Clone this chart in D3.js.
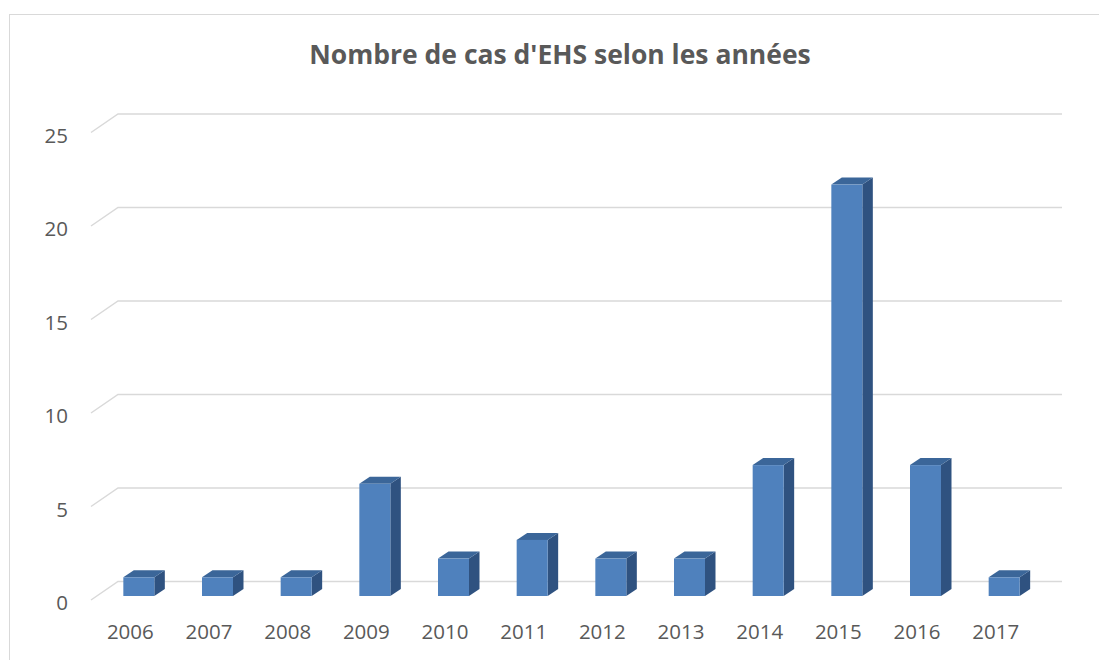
<!DOCTYPE html>
<meta charset="utf-8">
<script src="https://d3js.org/d3.v7.min.js"></script>
<style>
body { margin: 0; background: #fff; }
.axis .domain, .axis line { display: none; }
.axis text { font-family: "Open Sans", sans-serif; font-size: 20.5px; fill: #595959; }
</style>
<body>
<div id="canvas"></div>
<script>

var years = ["2006", "2007", "2008", "2009", "2010", "2011", "2012", "2013", "2014", "2015", "2016", "2017"];
var cases = [1, 1, 1, 6, 2, 3, 2, 2, 7, 22, 7, 1];
var yTicks = [0, 5, 10, 15, 20, 25];

var width = 1099, height = 660;

var svg = d3.select("#canvas").append("svg")
    .attr("width", width)
    .attr("height", height);

// cadre du graphique (sort de l'image à droite et en bas)
svg.append("rect")
    .attr("x", 9.5).attr("y", 14.5)
    .attr("width", 1200).attr("height", 800)
    .attr("fill", "none")
    .attr("stroke", "#d9d9d9");

svg.append("text")
    .attr("x", 560).attr("y", 64)
    .attr("text-anchor", "middle")
    .style("font-family", "Open Sans, sans-serif")
    .style("font-weight", "bold")
    .style("font-size", "26.5px")
    .style("fill", "#595959")
    .text("Nombre de cas d'EHS selon les années");

// profondeur de la 3D
var depth = {dx: 27, dy: -18.5};

// y = mur du fond
var y = d3.scaleLinear().domain([0, 25]).range([581.5, 114]);
// x = bande à l'avant
var x = d3.scaleBand().domain(years).range([91, 1035]);

// grille : petit trait en biais puis ligne sur le mur du fond
var grid = svg.append("g");
yTicks.forEach(function(t) {
    grid.append("path")
        .attr("d", "M" + x.range()[0] + "," + (y(t) - depth.dy) +
                   "L" + (x.range()[0] + depth.dx) + "," + y(t) +
                   "L" + (x.range()[1] + depth.dx) + "," + y(t))
        .attr("fill", "none")
        .attr("stroke", "#d9d9d9")
        .attr("stroke-width", 1.5);
});

// axe Y (valeurs sur le plan de devant)
svg.append("g")
    .attr("class", "axis")
    .attr("transform", "translate(68," + (-depth.dy + 3) + ")")
    .call(d3.axisLeft(y).tickValues(yTicks).tickSize(0).tickPadding(0));

// axe X
svg.append("g")
    .attr("class", "axis")
    .attr("transform", "translate(0," + (y(0) - depth.dy + 20) + ")")
    .call(d3.axisBottom(x).tickSize(0).tickPadding(4));

// barres 3D
var barW = x.bandwidth() * 0.394;
var off = {dx: 8.5, dy: -4};   // position de la face avant dans la profondeur
var side = {dx: 10.5, dy: -7}; // épaisseur de la barre

var bars = svg.selectAll(".bar")
    .data(years.map(function(yr, i) { return {year: yr, value: cases[i]}; }))
    .enter().append("g")
    .attr("class", "bar");

function fx(d) { return x(d.year) + x.bandwidth() / 2 - barW / 2 + off.dx; }
function fTop(d) { return y(d.value) - depth.dy + off.dy; }
function fBot() { return y(0) - depth.dy + off.dy; }

// face de côté
bars.append("path")
    .attr("d", function(d) {
        var x1 = fx(d) + barW;
        return "M" + x1 + "," + fBot() +
               "L" + (x1 + side.dx) + "," + (fBot() + side.dy) +
               "L" + (x1 + side.dx) + "," + (fTop(d) + side.dy) +
               "L" + x1 + "," + fTop(d) + "Z";
    })
    .attr("fill", "#2f5280");

// dessus
bars.append("path")
    .attr("d", function(d) {
        var x0 = fx(d), x1 = x0 + barW, t = fTop(d);
        return "M" + x0 + "," + t +
               "L" + (x0 + side.dx) + "," + (t + side.dy) +
               "L" + (x1 + side.dx) + "," + (t + side.dy) +
               "L" + x1 + "," + t + "Z";
    })
    .attr("fill", "#3b6699");

// face avant
bars.append("rect")
    .attr("x", fx)
    .attr("y", fTop)
    .attr("width", barW)
    .attr("height", function(d) { return fBot() - fTop(d); })
    .attr("fill", "#4f81bd");

</script>
</body>
